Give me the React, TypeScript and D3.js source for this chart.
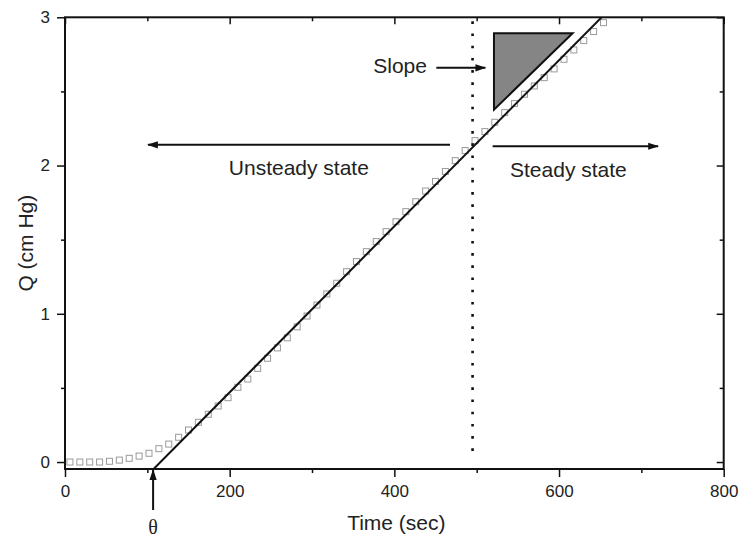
import React, { useEffect, useRef } from "react";
import * as d3 from "d3";

// measured permeation points (time in sec, Q in cm Hg)
const timeSec = [
  6, 18, 30, 42, 54, 66, 78, 90, 102, 114, 126, 138, 150, 162, 174, 186, 198, 210, 222, 234,
  246, 258, 270, 282, 294, 306, 318, 330, 342, 354, 366, 378, 390, 402, 414, 426, 438, 450, 462, 474,
  486, 498, 510, 522, 534, 546, 558, 570, 582, 594, 606, 618, 630, 642, 654,
];
const qValues = [
  0.0, 0.0, 0.0, 0.0, 0.005, 0.013, 0.025, 0.04, 0.059, 0.09, 0.121, 0.167, 0.216, 0.268, 0.322,
  0.378, 0.434, 0.504, 0.56, 0.632, 0.7, 0.77, 0.838, 0.912, 0.985, 1.059, 1.134, 1.206, 1.284,
  1.352, 1.419, 1.487, 1.554, 1.621, 1.689, 1.756, 1.828, 1.893, 1.96, 2.033, 2.101, 2.168, 2.229,
  2.292, 2.357, 2.418, 2.481, 2.537, 2.593, 2.652, 2.717, 2.78, 2.843, 2.904, 2.964,
];

// steady-state fit line: Q = slope * (t - theta)
const theta = 116;
const fitSlope = 0.0056;

const xMajor = [0, 200, 400, 600, 800];
const xMinor = [100, 300, 500, 700];
const yMajor = [0, 1, 2, 3];
const yMinor = [0.5, 1.5, 2.5];

const steadyStart = 495; // dotted divider
const thetaArrowT = 107;
// slope triangle corners (t, Q)
const triT = [521, 616.5, 521];
const triQ = [2.893, 2.893, 2.377];

export default function App() {
  const ref = useRef<SVGSVGElement>(null);

  useEffect(() => {
    const W = 739, H = 540;
    const margin = { top: 17.3, right: 15.3, bottom: 71, left: 65 };
    const svg = d3.select(ref.current);
    svg.selectAll("*").remove();
    const font = "'Liberation Sans', Arial, Helvetica, sans-serif";

    const x = d3.scaleLinear().domain([0, 800]).range([margin.left, W - margin.right]);
    const y = d3.scaleLinear().domain([-0.047, 3]).range([H - margin.bottom, margin.top]);
    const x0 = x.range()[0], x1 = x.range()[1];
    const yB = y.range()[0], yT = y.range()[1];

    const defs = svg.append("defs");
    defs.append("marker")
      .attr("id", "head")
      .attr("viewBox", "0 -5 12 10")
      .attr("refX", 11)
      .attr("refY", 0)
      .attr("markerWidth", 12)
      .attr("markerHeight", 9)
      .attr("markerUnits", "userSpaceOnUse")
      .attr("orient", "auto")
      .append("path")
      .attr("d", "M0,-4L12,0L0,4Z")
      .attr("fill", "#111");

    defs.append("clipPath").attr("id", "plot")
      .append("rect").attr("x", x0).attr("y", yT).attr("width", x1 - x0).attr("height", yB - yT);

    const styleAxis = (g: any) => {
      g.select(".domain").remove();
      g.selectAll("line").attr("stroke", "#111").attr("stroke-width", 1.5);
      g.selectAll("text").attr("fill", "#222").style("font-family", font).style("font-size", "17px");
    };

    // bottom
    svg.append("g").attr("transform", `translate(0,${yB})`)
      .call(d3.axisBottom(x).tickValues(xMajor).tickSizeInner(8).tickSizeOuter(0).tickPadding(8).tickFormat(d3.format("d")))
      .call(styleAxis);
    svg.append("g").attr("transform", `translate(0,${yB})`)
      .call(d3.axisBottom(x).tickValues(xMinor).tickSizeInner(4).tickSizeOuter(0).tickFormat(() => ""))
      .call(styleAxis);
    // top (inward)
    svg.append("g").attr("transform", `translate(0,${yT})`)
      .call(d3.axisTop(x).tickValues(xMajor).tickSizeInner(-7).tickSizeOuter(0).tickFormat(() => ""))
      .call(styleAxis);
    svg.append("g").attr("transform", `translate(0,${yT})`)
      .call(d3.axisTop(x).tickValues(xMinor).tickSizeInner(-4).tickSizeOuter(0).tickFormat(() => ""))
      .call(styleAxis);
    // left
    svg.append("g").attr("transform", `translate(${x0},0)`)
      .call(d3.axisLeft(y).tickValues(yMajor).tickSizeInner(8).tickSizeOuter(0).tickPadding(7).tickFormat(d3.format("d")))
      .call(styleAxis);
    svg.append("g").attr("transform", `translate(${x0},0)`)
      .call(d3.axisLeft(y).tickValues(yMinor).tickSizeInner(4).tickSizeOuter(0).tickFormat(() => ""))
      .call(styleAxis);
    // right (inward)
    svg.append("g").attr("transform", `translate(${x1},0)`)
      .call(d3.axisRight(y).tickValues(yMajor).tickSizeInner(-7).tickSizeOuter(0).tickFormat(() => ""))
      .call(styleAxis);
    svg.append("g").attr("transform", `translate(${x1},0)`)
      .call(d3.axisRight(y).tickValues(yMinor).tickSizeInner(-4).tickSizeOuter(0).tickFormat(() => ""))
      .call(styleAxis);

    // frame
    svg.append("rect")
      .attr("x", x0).attr("y", yT).attr("width", x1 - x0).attr("height", yB - yT)
      .attr("fill", "none").attr("stroke", "#111").attr("stroke-width", 2);

    // data squares
    const pts = timeSec.map((t, i) => [t, qValues[i]] as [number, number]);
    svg.append("g").selectAll("rect").data(pts).enter().append("rect")
      .attr("x", (d) => x(d[0]) - 3)
      .attr("y", (d) => y(d[1]) - 3)
      .attr("width", 6).attr("height", 6)
      .attr("fill", "none").attr("stroke", "#9a9a9a").attr("stroke-width", 1);

    // fit line
    const qLo = y.domain()[0], qHi = y.domain()[1];
    const line = d3.line<[number, number]>().x((d) => x(d[0])).y((d) => y(d[1]));
    svg.append("path")
      .datum([[theta + qLo / fitSlope, qLo], [theta + qHi / fitSlope, qHi]] as [number, number][])
      .attr("d", line)
      .attr("clip-path", "url(#plot)")
      .attr("fill", "none").attr("stroke", "#111").attr("stroke-width", 2);

    // dotted divider
    svg.append("line")
      .attr("x1", x(steadyStart)).attr("x2", x(steadyStart))
      .attr("y1", yT + 4).attr("y2", y(0) - 2)
      .attr("stroke", "#111").attr("stroke-width", 2.6)
      .attr("stroke-dasharray", "2.6 9.6");

    // slope triangle
    svg.append("path")
      .datum(triT.map((t, i) => [t, triQ[i]] as [number, number]))
      .attr("d", (d) => line(d) + "Z")
      .attr("fill", "#858585").attr("stroke", "#111").attr("stroke-width", 2);

    const arrow = (t1: number, q1: number, t2: number, q2: number) =>
      svg.append("line")
        .attr("x1", x(t1)).attr("y1", y(q1)).attr("x2", x(t2)).attr("y2", y(q2))
        .attr("stroke", "#111").attr("stroke-width", 2).attr("marker-end", "url(#head)");

    arrow(467.6, 2.14, 100.8, 2.14);
    arrow(519.4, 2.13, 720.3, 2.13);
    arrow(451, 2.659, 510.5, 2.659);

    const label = (txt: string, t: number, q: number, anchor: string) =>
      svg.append("text")
        .attr("x", x(t)).attr("y", y(q))
        .attr("text-anchor", anchor)
        .attr("fill", "#222")
        .style("font-family", font).style("font-size", "21px")
        .text(txt);

    label("Unsteady state", 284, 1.938, "middle");
    label("Steady state", 611.4, 1.926, "middle");
    label("Slope", 439.6, 2.626, "end");

    // theta arrow
    svg.append("line")
      .attr("x1", x(thetaArrowT)).attr("x2", x(thetaArrowT))
      .attr("y1", yB + 41).attr("y2", yB + 1)
      .attr("stroke", "#111").attr("stroke-width", 2).attr("marker-end", "url(#head)");
    svg.append("text")
      .attr("x", x(thetaArrowT)).attr("y", yB + 65)
      .attr("text-anchor", "middle").attr("fill", "#222")
      .style("font-family", "'Liberation Serif', 'Times New Roman', serif").style("font-size", "20px")
      .text("θ");

    // axis titles
    svg.append("text")
      .attr("x", (x0 + x1) / 2 + 2).attr("y", 530)
      .attr("text-anchor", "middle").attr("fill", "#222")
      .style("font-family", font).style("font-size", "21px")
      .text("Time (sec)");
    svg.append("text")
      .attr("transform", `translate(33,${(yT + yB) / 2}) rotate(-90)`)
      .attr("text-anchor", "middle").attr("fill", "#222")
      .style("font-family", font).style("font-size", "21px")
      .text("Q (cm Hg)");
  }, []);

  return (
    <svg
      ref={ref}
      width={739}
      height={540}
      style={{ position: "absolute", left: 0, top: 0, background: "#fff" }}
    />
  );
}
